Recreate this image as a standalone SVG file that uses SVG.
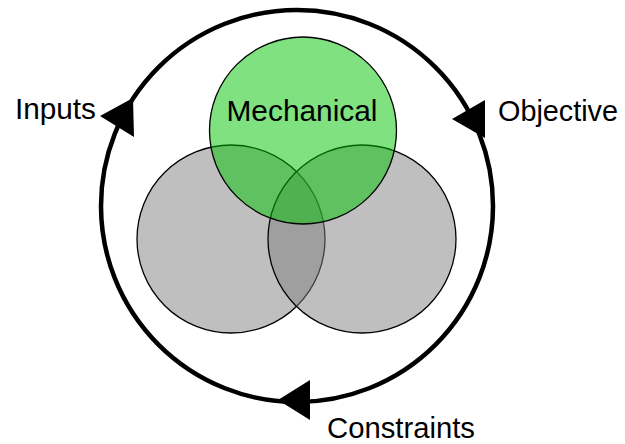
<svg xmlns="http://www.w3.org/2000/svg" width="625" height="444" viewBox="0 0 625 444">
<style>
.lbl{font-family:"Liberation Sans",Arial,sans-serif;font-size:30px;fill:#000}
.set{stroke:#000;stroke-width:1.3}
.gray{fill:#808080;fill-opacity:0.5}
.green{fill:#00C400;fill-opacity:0.5}
.loop{fill:none;stroke:#000;stroke-width:4.5}
.head{fill:#000}
</style>
<rect width="625" height="444" fill="#fff"/>
<g id="connectors">
<circle class="loop" cx="297" cy="206" r="196"/>
<polygon class="head" points="100,116 133,98 134,137"/>
<polygon class="head" points="452,119 485,100 485,138"/>
<polygon class="head" points="278,400 310,380 310,420"/>
</g>
<g id="left-set"><circle class="set gray" cx="231" cy="239" r="94"/></g>
<g id="right-set"><circle class="set gray" cx="362" cy="239" r="94"/></g>
<g id="mechanical"><circle class="set green" cx="303" cy="130.5" r="93.5"/>
<text class="lbl" x="302" y="121" text-anchor="middle" textLength="151" lengthAdjust="spacingAndGlyphs">Mechanical</text></g>
<g id="inputs"><text class="lbl" x="15" y="119" textLength="81" lengthAdjust="spacingAndGlyphs">Inputs</text></g>
<g id="objective"><text class="lbl" x="498" y="121" textLength="120" lengthAdjust="spacingAndGlyphs">Objective</text></g>
<g id="constraints"><text class="lbl" x="327" y="438" textLength="148" lengthAdjust="spacingAndGlyphs">Constraints</text></g>
</svg>
